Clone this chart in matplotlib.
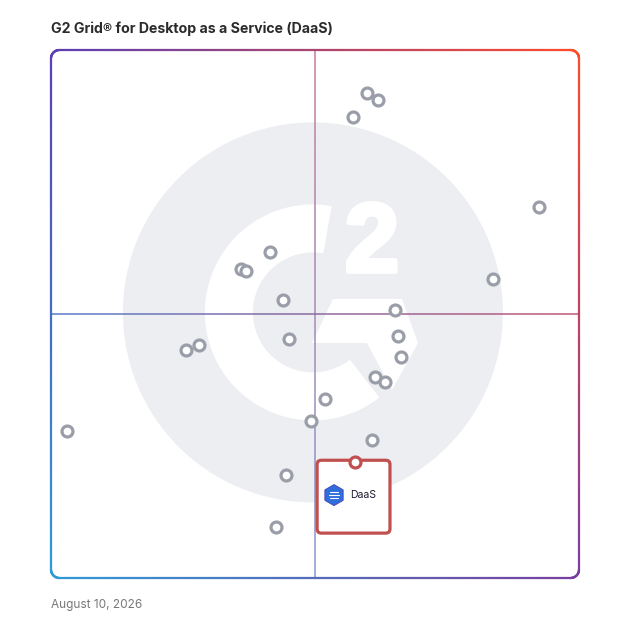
import numpy as np
import matplotlib
matplotlib.use('Agg')
import matplotlib.pyplot as plt
import matplotlib.patheffects as pe
from matplotlib.collections import LineCollection
from matplotlib.patches import Circle, Wedge, Polygon, FancyBboxPatch, RegularPolygon

# product positions on the grid (0-100 both axes)
names = ['p%d' % i for i in range(23)]
x_vals = [59.8, 61.9, 57.2, 92.4, 41.5, 36.0, 36.9, 83.7, 43.9, 65.2, 65.7, 45.1,
          28.0, 25.6, 66.3, 61.4, 63.3, 51.9, 49.2, 3.0, 60.8, 44.5, 42.6]
y_vals = [91.8, 90.5, 87.3, 70.2, 61.7, 58.6, 58.1, 56.7, 52.6, 50.7, 45.9, 45.2,
          44.2, 43.1, 41.9, 38.1, 37.2, 33.9, 29.8, 27.9, 26.2, 19.5, 9.7]
hl_name = 'DaaS'
hl_x = 57.6
hl_y = 22.0

title = 'G2 Grid® for Desktop as a Service (DaaS)'
date_txt = 'August 10, 2026'

# corner colours of the gradient frame
c_tl = np.array([91, 63, 181]) / 255
c_tr = np.array([255, 75, 43]) / 255
c_bl = np.array([47, 155, 214]) / 255
c_br = np.array([122, 63, 160]) / 255


def grad(x, y):
    u = np.clip(x / 100, 0, 1)[:, None]
    v = np.clip(y / 100, 0, 1)[:, None]
    return (1 - u) * (1 - v) * c_bl + u * (1 - v) * c_br + (1 - u) * v * c_tl + u * v * c_tr


def grad_line(ax, xs, ys, lw, alpha=1.0, z=3, cap='round'):
    pts = np.column_stack([xs, ys])
    segs = np.stack([pts[:-1], pts[1:]], axis=1)
    mid = (pts[:-1] + pts[1:]) / 2
    cols = grad(mid[:, 0], mid[:, 1])
    cols = cols * alpha + (1 - alpha)  # blend toward white, keeps segments opaque
    lc = LineCollection(segs, colors=cols, linewidths=lw, capstyle=cap, zorder=z, clip_on=False)
    ax.add_collection(lc)


fig = plt.figure(figsize=(6.28, 6.28), dpi=100)
ax = fig.add_axes([51 / 628, 50 / 628, 528 / 628, 528 / 628])
ax.set_xlim(0, 100)
ax.set_ylim(0, 100)
ax.axis('off')

# watermark logo (pixel sizes converted to data units)
k = 1 / 5.28
cx, cy = 49.6, 50.3
ax.add_patch(Circle((cx, cy), 190 * k, color='#eceef1', lw=0, zorder=1))
ax.add_patch(Wedge((cx, cy), 108 * k, 80, 308, width=48 * k, color='white', lw=0, zorder=1.5))
chev = np.array([[312, 343], [333, 299], [402, 299], [418, 343], [392, 390], [367, 343]], float)
chev = np.column_stack([(chev[:, 0] - 51) * k, (578 - chev[:, 1]) * k])
ax.add_patch(Polygon(chev, closed=True, color='white', lw=0, zorder=1.5))
ax.text(60.8, 62.8, '2', fontsize=70, fontweight='bold', family='Liberation Sans',
        color='white', ha='center', va='center', zorder=1.6,
        path_effects=[pe.withStroke(linewidth=3.5, foreground='white')])

# frame with rounded corners
r = 1.6
t = np.linspace(0, 1, 200)
arc = np.linspace(0, np.pi / 2, 40)
xs = np.concatenate([r + (100 - 2 * r) * t, 100 - r + r * np.sin(arc), np.full(200, 100),
                     100 - r + r * np.cos(arc), 100 - r - (100 - 2 * r) * t, r - r * np.sin(arc),
                     np.zeros(200), r - r * np.cos(arc)])
ys = np.concatenate([np.zeros(200), r - r * np.cos(arc), r + (100 - 2 * r) * t,
                     100 - r + r * np.sin(arc), np.full(200, 100), 100 - r + r * np.cos(arc),
                     100 - r - (100 - 2 * r) * t, r - r * np.sin(arc)])
grad_line(ax, xs, ys, 1.6)

# quadrant lines
grad_line(ax, np.full(100, 50.0), np.linspace(0, 100, 100), 1.1, alpha=0.7, z=2, cap='butt')
grad_line(ax, np.linspace(0, 100, 100), np.full(100, 50.0), 1.1, alpha=0.9, z=2, cap='butt')

# products
ax.scatter(x_vals, y_vals, s=62, facecolor='white', edgecolor='#9a9ea8', linewidth=2.3, zorder=5)

# highlighted product box
red = '#c0504f'
ax.add_patch(FancyBboxPatch((hl_x - 7.2, hl_y - 13.5), 13.8, 13.8,
                            boxstyle='round,pad=0,rounding_size=0.8',
                            facecolor='white', edgecolor=red, lw=2.3, zorder=6))
ax.scatter([hl_x], [hl_y], s=62, facecolor='white', edgecolor=red, linewidth=2.3, zorder=7)
ax.add_patch(RegularPolygon((hl_x - 4.0, hl_y - 6.3), 6, radius=2.0, orientation=0,
                            facecolor='#2e6fdc', edgecolor='#4a3fb0', lw=0.6, zorder=7))
for dy, w in [(0.6, 1.4), (0.0, 1.8), (-0.6, 1.4)]:
    ax.plot([hl_x - 4.0 - w / 2, hl_x - 4.0 + w / 2], [hl_y - 6.3 + dy] * 2,
            color='white', lw=0.8, solid_capstyle='round', zorder=8)
ax.text(hl_x - 0.9, hl_y - 6.3, hl_name, fontsize=7.5, family='Inter', color='#1a1a2e',
        ha='left', va='center', zorder=8)

fig.text(51 / 628, 1 - 29 / 628, title, fontsize=10.2, fontweight='bold', family='Inter',
         color='#2b2b2b', ha='left', va='center')
fig.text(51 / 628, 1 - 605 / 628, date_txt, fontsize=8.5, family='Inter',
         color='#777777', ha='left', va='center')

fig.savefig('out.png', dpi=100)
